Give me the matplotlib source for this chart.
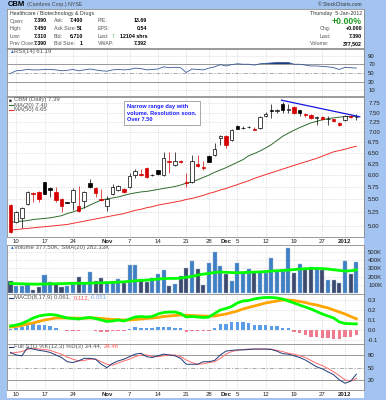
import matplotlib
matplotlib.use("Agg")
import matplotlib.pyplot as plt
from matplotlib.lines import Line2D
from matplotlib.patches import Rectangle
from matplotlib.ticker import NullLocator, NullFormatter, FixedLocator, FixedFormatter
import numpy as np

plt.rcParams['font.family'] = ['Liberation Sans', 'DejaVu Sans']

W, H = 386, 400

# trading days 7-Oct-2011 .. 5-Jan-2012 (index 0 = Oct 7)
tick_days = [1, 6, 11, 17, 21, 26, 31, 35, 38, 40, 45, 50, 55, 59]
tick_labels = ['10', '17', '24', 'Nov', '7', '14', '21', '28', 'Dec', '5', '12', '19', '27', '2012']
bold_labels = ['Nov', 'Dec', '2012']

opens = [5.40, 5.08, 5.14, 5.42, 5.62, 5.64, 5.85, 5.72, 5.64, 5.50, 5.45, 5.46, 5.38, 5.47, 5.83, 5.74,
         5.51, 5.38, 5.60, 5.69, 5.70, 5.76, 6.00, 6.02, 6.16, 6.01, 6.10, 6.01, 6.31, 6.22, 6.30, 5.86,
         5.86, 6.25, 6.17, 6.42, 6.44, 6.86, 6.90, 6.79, 7.16, 7.10, 7.12, 7.08, 7.11, 7.40, 7.56, 7.55,
         7.73, 7.58, 7.65, 7.56, 7.46, 7.44, 7.37, 7.39, 7.33, 7.32, 7.23, 7.31, 7.40, 7.39]
highs = [5.42, 5.27, 5.35, 5.67, 5.65, 5.66, 5.86, 5.76, 5.76, 5.52, 5.46, 5.72, 5.78, 5.66, 5.92, 5.76,
         5.70, 5.57, 5.81, 5.80, 5.72, 6.04, 6.14, 6.14, 6.18, 6.02, 6.12, 6.51, 6.51, 6.51, 6.33, 6.04,
         6.44, 6.44, 6.30, 6.44, 6.74, 6.93, 6.93, 7.08, 7.18, 7.14, 7.15, 7.12, 7.41, 7.52, 7.73, 7.60,
         7.79, 7.74, 7.67, 7.58, 7.48, 7.46, 7.42, 7.41, 7.40, 7.34, 7.25, 7.44, 7.43, 7.45]
lows = [4.88, 5.06, 4.97, 5.40, 5.46, 5.45, 5.60, 5.55, 5.46, 5.26, 5.43, 5.30, 5.26, 5.33, 5.74, 5.55,
        5.47, 5.28, 5.58, 5.66, 5.62, 5.74, 5.94, 5.99, 5.94, 5.98, 6.00, 5.99, 6.05, 6.20, 6.26, 5.76,
        5.84, 6.18, 6.10, 6.28, 6.42, 6.68, 6.60, 6.77, 7.07, 7.08, 7.10, 7.04, 7.08, 7.38, 7.37, 7.50,
        7.50, 7.48, 7.45, 7.40, 7.38, 7.32, 7.18, 7.30, 7.18, 7.26, 7.16, 7.29, 7.37, 7.31]
closes = [4.89, 5.25, 5.33, 5.65, 5.61, 5.50, 5.61, 5.69, 5.48, 5.37, 5.44, 5.68, 5.27, 5.64, 5.75, 5.63,
          5.48, 5.51, 5.76, 5.78, 5.64, 5.98, 6.08, 6.01, 5.96, 6.00, 6.02, 6.38, 6.29, 6.30, 6.28, 5.84,
          6.31, 6.20, 6.15, 6.29, 6.59, 6.89, 6.68, 7.06, 7.08, 7.11, 7.13, 7.06, 7.39, 7.47, 7.55, 7.56,
          7.57, 7.60, 7.48, 7.50, 7.43, 7.37, 7.38, 7.33, 7.34, 7.28, 7.17, 7.41, 7.39, 7.39]
prev_close = 5.30

ma20 = [5.07, 5.08, 5.09, 5.10, 5.12, 5.13, 5.14, 5.15, 5.17, 5.19, 5.23, 5.26, 5.30, 5.34, 5.39, 5.44,
        5.49, 5.51, 5.53, 5.55, 5.58, 5.61, 5.63, 5.65, 5.66, 5.68, 5.70, 5.72, 5.74, 5.76, 5.79, 5.83,
        5.86, 5.90, 5.95, 6.00, 6.06, 6.11, 6.16, 6.22, 6.28, 6.34, 6.43, 6.48, 6.54, 6.61, 6.69, 6.79,
        6.89, 6.97, 7.04, 7.11, 7.17, 7.23, 7.27, 7.31, 7.34, 7.36, 7.38, 7.39, 7.40, 7.40]
ma50 = [4.93, 4.94, 4.95, 4.96, 4.97, 4.98, 4.99, 5.00, 5.01, 5.02, 5.03, 5.05, 5.07, 5.09, 5.11, 5.13,
        5.15, 5.17, 5.19, 5.21, 5.23, 5.26, 5.29, 5.31, 5.34, 5.36, 5.39, 5.41, 5.43, 5.45, 5.47, 5.50,
        5.52, 5.55, 5.58, 5.62, 5.65, 5.69, 5.72, 5.76, 5.80, 5.84, 5.88, 5.93, 5.97, 6.01, 6.05, 6.09,
        6.13, 6.17, 6.21, 6.25, 6.29, 6.33, 6.37, 6.42, 6.47, 6.52, 6.55, 6.58, 6.62, 6.65]
trend_days = [47.8, 61.6]
trend_prices = [7.84, 7.39]
price_ticks = [5.00, 5.25, 5.50, 5.75, 6.00, 6.25, 6.50, 6.75, 7.00, 7.25, 7.50, 7.75]

volume_k = [152, 88, 90, 108, 40, 72, 216, 132, 108, 80, 90, 140, 196, 120, 252, 144,
            180, 120, 136, 168, 128, 340, 336, 168, 140, 188, 232, 276, 88, 112, 208, 300,
            384, 296, 96, 360, 496, 332, 236, 144, 360, 244, 292, 256, 272, 244, 424, 276,
            272, 540, 248, 356, 296, 320, 308, 280, 160, 160, 120, 388, 232, 377.5]
volume_sma_k = [120, 118, 116, 114, 112, 112, 114, 116, 117, 118, 120, 121, 122, 122, 124, 126,
                128, 130, 133, 136, 140, 146, 152, 156, 160, 166, 172, 178, 180, 180, 184, 195,
                205, 220, 232, 240, 252, 256, 254, 250, 248, 250, 254, 256, 258, 262, 268, 272,
                276, 280, 286, 292, 296, 300, 300, 298, 292, 284, 276, 268, 272, 282]

rsi = [49, 55, 56, 58, 57, 57, 58, 58, 57, 55, 56, 58, 55, 57, 59, 57,
       55, 54, 57, 58, 57, 58, 61, 60, 57, 58, 59, 64, 62, 63, 62, 51,
       59, 58, 57, 61, 64, 69, 66, 69, 71, 70, 70, 68, 71, 72, 73, 74,
       74, 74, 70, 70, 68, 66, 66, 65, 64, 62, 58, 63, 62, 61.19]

macd = [0.040, 0.050, 0.065, 0.090, 0.120, 0.140, 0.150, 0.155, 0.150, 0.135, 0.120, 0.115, 0.110, 0.120, 0.125, 0.115,
        0.100, 0.085, 0.090, 0.100, 0.090, 0.110, 0.130, 0.135, 0.130, 0.135, 0.160, 0.175, 0.180, 0.180, 0.165, 0.130,
        0.135, 0.130, 0.125, 0.130, 0.165, 0.200, 0.215, 0.235, 0.270, 0.290, 0.295, 0.310, 0.320, 0.325, 0.325, 0.320,
        0.310, 0.290, 0.270, 0.250, 0.230, 0.210, 0.185, 0.160, 0.140, 0.120, 0.080, 0.065, 0.063, 0.061]
macd_signal = [0.030, 0.035, 0.045, 0.060, 0.070, 0.085, 0.100, 0.110, 0.120, 0.120, 0.120, 0.120, 0.118, 0.118, 0.120, 0.120,
               0.115, 0.110, 0.105, 0.103, 0.100, 0.100, 0.105, 0.110, 0.115, 0.120, 0.125, 0.135, 0.140, 0.145, 0.150, 0.148,
               0.145, 0.142, 0.140, 0.138, 0.140, 0.150, 0.160, 0.175, 0.190, 0.210, 0.225, 0.240, 0.255, 0.270, 0.280, 0.290,
               0.300, 0.300, 0.295, 0.285, 0.275, 0.260, 0.250, 0.235, 0.220, 0.200, 0.180, 0.160, 0.135, 0.112]
macd_hist = [0.010, 0.023, 0.033, 0.060, 0.060, 0.050, 0.050, 0.045, 0.017, 0.000, -0.007, -0.007, -0.007, 0.003, 0.003, -0.007,
             -0.017, -0.020, -0.013, -0.007, -0.007, 0.010, 0.027, 0.023, 0.020, 0.017, 0.030, 0.033, 0.030, 0.025, 0.017, -0.017,
             -0.013, -0.010, -0.010, -0.007, 0.017, 0.057, 0.063, 0.083, 0.083, 0.077, 0.067, 0.050, 0.050, 0.050, 0.043, 0.037,
             0.023, 0.017, -0.017, -0.030, -0.050, -0.067, -0.070, -0.083, -0.083, -0.090, -0.092, -0.070, -0.065, -0.051]

sto_k = [86, 80, 78, 97, 94, 91, 89, 86, 80, 74, 64, 62, 66, 72, 72, 70,
         58, 50, 60, 66, 70, 76, 82, 84, 76, 74, 78, 82, 80, 78, 72, 58,
         58, 58, 64, 64, 67, 80, 89, 91, 92, 92, 93, 94, 94, 94, 93, 89,
         83, 82, 78, 74, 68, 60, 52, 47, 40, 33, 21, 13, 18, 34.44]
sto_d = [84, 86, 88, 93, 96, 94, 93, 91, 86, 82, 75, 70, 66, 67, 70, 70,
         64, 58, 56, 61, 66, 70, 76, 80, 80, 77, 76, 78, 80, 80, 76, 68,
         62, 58, 59, 62, 64, 72, 82, 88, 91, 93, 94, 94, 94, 94, 94, 91,
         88, 84, 82, 78, 74, 67, 60, 55, 48, 40, 31, 21, 18, 24.46]

FRAME = '#a3c4f0'
NAVY = '#1f3a78'
RED = '#d40000'
GRID = '#c8c8c8'
FS = 4.3
HFS = 3.8  # header font

days = np.arange(len(closes))
prev = np.array([prev_close] + closes[:-1])
up = np.array(closes) >= prev


def fpos(x, y):
    return x / W, 1 - y / H


def panel(top, bottom):
    return fig.add_axes([7 / W, 1 - bottom / H, 357 / W, (bottom - top) / H])


def style(ax, ylim, yticks, ylabels):
    ax.set_xlim(-0.62, 62.35)
    ax.set_ylim(*ylim)
    ax.yaxis.set_major_locator(FixedLocator(yticks))
    ax.yaxis.set_major_formatter(FixedFormatter(ylabels))
    ax.yaxis.set_minor_locator(NullLocator())
    ax.yaxis.set_minor_formatter(NullFormatter())
    ax.set_xticks(tick_days)
    ax.yaxis.tick_right()
    ax.tick_params(axis='y', length=0, labelsize=FS, pad=3, colors='#222222')
    ax.tick_params(axis='x', length=0, labelbottom=False)
    ax.grid(True, ls=':', color=GRID, lw=0.5)
    ax.set_axisbelow(True)
    for s in ax.spines.values():
        s.set_color('#8a8a8a')
        s.set_linewidth(0.6)


def date_labels(ax):
    ax.tick_params(axis='x', labelbottom=True, labelsize=FS, pad=1.5, colors='#222222')
    ax.set_xticklabels(tick_labels)
    for t in ax.get_xticklabels():
        if t.get_text() in bold_labels:
            t.set_fontweight('bold')


def legend_line(y, color):
    fig.add_artist(Line2D([8.5 / W, 13 / W], [1 - y / H] * 2, color=color, lw=0.8,
                          transform=fig.transFigure))


fig = plt.figure(figsize=(W / 100, H / 100), dpi=100, facecolor=FRAME)
# white backing box behind all panels
back = fig.add_axes([7 / W, 2 / H, 357 / W, 350 / H], zorder=-5)
back.axis('off')
back.add_patch(Rectangle((0, 0), 1, 1, transform=back.transAxes, fc='white', ec='none'))

# ---- header ----
hdr = panel(9, 48)
hdr.set_xticks([])
hdr.set_yticks([])
for s in hdr.spines.values():
    s.set_color('#8a8a8a')
    s.set_linewidth(0.6)

fig.text(*fpos(8, 4.5), 'CBM', fontsize=5.5, fontweight='bold', va='center')
fig.text(*fpos(27, 4.8), '(Cambrex Corp.) NYSE', fontsize=HFS, color='#444444', va='center')
fig.text(*fpos(362, 4.8), '\u00a9 StockCharts.com', fontsize=3.6, color='#333333', va='center', ha='right')

rows = [21, 28.5, 36, 43.5]
fig.text(*fpos(10, 14), 'Healthcare / Biotechnology & Drugs', fontsize=HFS, color='#333333', va='center')
fig.text(*fpos(362, 14), 'Thursday  5-Jan-2012', fontsize=HFS, color='#333333', va='center', ha='right')
cols = [(10, 47, ['Open:', 'High:', 'Low:', 'Prev Close:'], ['7.390', '7.450', '7.310', '7.390']),
        (54, 83, ['Ask:', 'Ask Size:', 'Bid:', 'Bid Size:'], ['7.400', '51', '6.710', '1']),
        (98, 147, ['P/E:', 'EPS:', 'Last:', 'VWAP:'], ['13.69', '0.54', '12104 shrs', '7.392'])]
for lx, vx, labs, vals in cols:
    for y, lab, val in zip(rows, labs, vals):
        size = 3.3 if len(lab) > 9 else HFS
        fig.text(*fpos(lx, y), lab, fontsize=size, color='#555555', va='center')
        fig.text(*fpos(vx, y), val, fontsize=HFS, fontweight='bold', va='center', ha='right')
fig.text(*fpos(111, 36), '\u2191', fontsize=HFS + 1, color='#119911', fontweight='bold', va='center')
fig.text(*fpos(362, 21), '+0.00%', fontsize=6.3, color='#1a9a1a', fontweight='bold', va='center', ha='right')
for y, lab, val, lx in [(28.5, 'Chg:', '+0.000', 320), (36, 'Last:', '7.390', 320),
                        (43.5, 'Volume:', '377,502', 310)]:
    fig.text(*fpos(lx, y), lab, fontsize=HFS, color='#555555', va='center')
    fig.text(*fpos(362, y), val, fontsize=HFS, fontweight='bold', va='center', ha='right')

# ---- RSI ----
ax_rsi = panel(49, 96)
style(ax_rsi, (-3, 105), [10, 30, 50, 70, 90], ['10', '30', '50', '70', '90'])
ax_rsi.axhline(70, color='#999999', lw=0.7)
ax_rsi.axhline(30, color='#999999', lw=0.7)
ax_rsi.axhline(50, color='#aaaaaa', lw=0.7, ls=(0, (4, 2, 1, 2)))
rsi_arr = np.array(rsi)
ax_rsi.fill_between(days, rsi_arr, 70, where=rsi_arr > 70, interpolate=True, color=NAVY, lw=0)
ax_rsi.plot(days, rsi, color='#3a5a9a', lw=0.6)
fig.text(*fpos(9, 51.5), '\u25b2', fontsize=3.5, color='#3a6fc0', va='center')
fig.text(*fpos(14, 51.5), 'RSI(14) 61.19', fontsize=FS, color='#555555', va='center')

# ---- price ----
ax = panel(97, 237)
ax.set_yscale('log')
style(ax, (4.81, 7.93), price_ticks, ['%.2f' % p for p in price_ticks])
date_labels(ax)
ax.plot(days, ma20, color='#2e6b2e', lw=0.7)
ax.plot(days, ma50, color='#f03030', lw=0.7)
for i in days:
    o, hi, lo, c = opens[i], highs[i], lows[i], closes[i]
    col = 'black' if up[i] else RED
    ax.vlines(i, lo, hi, color=col, lw=0.5, zorder=3)
    fc = 'white' if c > o else col
    ax.bar(i, max(abs(c - o), 0.004), bottom=min(o, c), width=0.62, color=fc,
           edgecolor=col, lw=0.5, zorder=4)
ax.plot(trend_days, trend_prices, color='#1515e0', lw=0.9, zorder=5)
ax.text(0.337, 0.947, 'Narrow range day with\nvolume. Resolution soon.\nOver 7.50',
        transform=ax.transAxes, fontsize=4.1, fontweight='bold', color='#1a1aff',
        va='top', ha='left', linespacing=1.35,
        bbox=dict(boxstyle='square,pad=0.55', fc='white', ec='#9a9a9a', lw=0.6), zorder=6)
fig.text(*fpos(9, 100), '\u25a0', fontsize=3.5, color='#333333', va='center')
fig.text(*fpos(14, 100), 'CBM (Daily) 7.39', fontsize=FS, color='#555555', va='center')
legend_line(105, '#2e6b2e')
fig.text(*fpos(14, 105), 'MA(20) 7.40', fontsize=FS, color='#555555', va='center')
legend_line(110, '#f03030')
fig.text(*fpos(14, 110), 'MA(50) 6.65', fontsize=FS, color='#555555', va='center')

# ---- volume ----
ax_v = panel(245, 294)
style(ax_v, (-6, 580), [100, 200, 300, 400, 500], ['100K', '200K', '300K', '400K', '500K'])
vcol = np.where(up, '#3f7fc4', '#3d4a6b')
ax_v.bar(days, volume_k, width=0.72, color=vcol, edgecolor='#9fb6d6', lw=0.3, zorder=2)
ax_v.plot(days, volume_sma_k, color='lime', lw=2.0, zorder=5)
fig.text(*fpos(9, 247.5), '\u25b2', fontsize=3.5, color='#3a6fc0', va='center')
fig.text(*fpos(14, 247.5), 'Volume 377.50K, SMA(20) 282.33K', fontsize=FS, color='#555555', va='center')

# ---- MACD ----
ax_m = panel(294, 344)
style(ax_m, (-0.14, 0.36), [-0.1, 0.0, 0.1, 0.2, 0.3], ['-0.1', '0.0', '0.1', '0.2', '0.3'])
hcol = ['#5b9de8' if v >= 0 else '#f07a8e' for v in macd_hist]
ax_m.bar(days, macd_hist, width=0.62, color=hcol, lw=0, zorder=2)
ax_m.plot(days, macd_signal, color='orange', lw=2.0, zorder=5)
ax_m.plot(days, macd, color='lime', lw=2.0, zorder=6)
legend_line(297.5, NAVY)
fig.text(*fpos(14, 297.5), 'MACD(8,17,9) 0.061,', fontsize=FS, color='#555555', va='center')
fig.text(*fpos(74, 297.5), '0.112,', fontsize=FS, color='#ff5a5a', va='center')
fig.text(*fpos(90, 297.5), '-0.051', fontsize=FS, color='#7aa8f0', va='center')

# ---- full stochastics ----
ax_s = panel(344, 390)
style(ax_s, (-3, 106), [20, 50, 80], ['20', '50', '80'])
date_labels(ax_s)
ax_s.axhline(80, color='#999999', lw=0.7)
ax_s.axhline(20, color='#999999', lw=0.7)
ax_s.axhline(50, color='#aaaaaa', lw=0.7, ls=(0, (4, 2, 1, 2)))
ax_s.plot(days, sto_d, color='#ff6a6a', lw=0.7)
ax_s.plot(days, sto_k, color=NAVY, lw=0.7)
legend_line(346.5, NAVY)
fig.text(*fpos(14, 346.5), 'Full STO %K(12,3) %D(3) 34.44,', fontsize=FS, color='#555555', va='center')
fig.text(*fpos(104, 346.5), '24.46', fontsize=FS, color='#ff5a5a', va='center')

fig.savefig('out.png', dpi=100, facecolor=FRAME)
